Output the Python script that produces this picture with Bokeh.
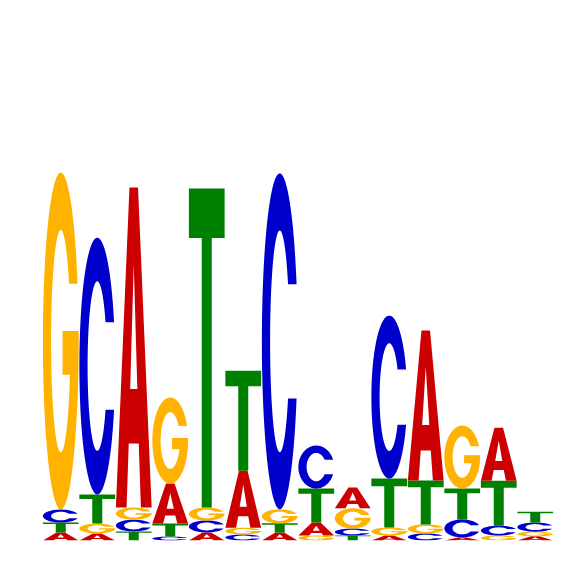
import numpy as np
from bokeh.plotting import figure
from bokeh.models import ColumnDataSource, Range1d
from bokeh.embed import file_html
from bokeh.resources import INLINE

# ---- data (information content per letter, bits) ----
positions = list(range(1, 15))
A_bits = [0.031, 0.027, 1.231, 0.154, 0.031, 0.219, 0.031, 0.050, 0.080, 0.019, 0.577, 0.012, 0.204, 0.016]
C_bits = [0.050, 0.988, 0.045, 0.015, 0.046, 0.023, 1.292, 0.165, 0.027, 0.627, 0.027, 0.069, 0.038, 0.035]
G_bits = [1.296, 0.038, 0.047, 0.331, 0.050, 0.026, 0.054, 0.019, 0.078, 0.031, 0.035, 0.242, 0.019, 0.018]
T_bits = [0.038, 0.112, 0.035, 0.050, 1.227, 0.385, 0.035, 0.131, 0.019, 0.188, 0.169, 0.119, 0.173, 0.042]
letters = ["A", "C", "G", "T"]
colors = {"A": "#CC0000", "C": "#0000CC", "G": "#FFB300", "T": "#008000"}

# ---- letter outlines in a unit box (exterior ring, optional holes) ----
def ring(cx, cy, rx, ry, t):
    return cx + rx * np.cos(t), cy + ry * np.sin(t)

def shape_A():
    ox = [0.0, 0.38, 0.62, 1.0, 0.70, 0.64, 0.36, 0.30]
    oy = [0.0, 1.0, 1.0, 0.0, 0.0, 0.20, 0.20, 0.0]
    hx = [0.40, 0.60, 0.50]
    hy = [0.37, 0.37, 0.76]
    return [(np.array(ox), np.array(oy)), (np.array(hx), np.array(hy))]

def shape_T():
    ox = [0.36, 0.64, 0.64, 1.0, 1.0, 0.0, 0.0, 0.36]
    oy = [0.0, 0.0, 0.845, 0.845, 1.0, 1.0, 0.845, 0.845]
    return [(np.array(ox), np.array(oy))]

RXO, RYO, RXI, RYI, GAP = 0.5, 0.5, 0.27, 0.33, 0.17

def shape_C():
    a_o = np.arcsin(GAP / RYO)
    a_i = np.arcsin(GAP / RYI)
    t_o = np.linspace(a_o, 2 * np.pi - a_o, 90)
    t_i = np.linspace(2 * np.pi - a_i, a_i, 90)
    xo, yo = ring(0.5, 0.5, RXO, RYO, t_o)
    xi, yi = ring(0.5, 0.5, RXI, RYI, t_i)
    return [(np.concatenate([xo, xi]), np.concatenate([yo, yi]))]

def shape_G():
    a_o = np.arcsin(GAP / RYO)
    a_i = np.arcsin(GAP / RYI)
    bar_top, bar_bot, bar_left = 0.53, 0.40, 0.55
    b_i = np.arcsin((0.5 - bar_bot) / RYI)
    t_o = np.linspace(a_o, 2 * np.pi, 90)
    t_i = np.linspace(2 * np.pi - b_i, a_i, 90)
    xo, yo = ring(0.5, 0.5, RXO, RYO, t_o)
    xi, yi = ring(0.5, 0.5, RXI, RYI, t_i)
    bx = np.array([1.0, bar_left, bar_left])
    by = np.array([bar_top, bar_top, bar_bot])
    return [(np.concatenate([xo, bx, xi]), np.concatenate([yo, by, yi]))]

shapes = {"A": shape_A(), "C": shape_C(), "G": shape_G(), "T": shape_T()}

# ---- build stacked glyphs ----
heights = {"A": A_bits, "C": C_bits, "G": G_bits, "T": T_bits}
col_w = 0.98
data = {"xs": [], "ys": [], "color": []}
for i, pos in enumerate(positions):
    col = sorted(letters, key=lambda L: heights[L][i])
    base = 0.0
    for L in col:
        h = heights[L][i]
        rings_x, rings_y = [], []
        for ux, uy in shapes[L]:
            rings_x.append(list(pos + (ux - 0.5) * col_w))
            rings_y.append(list(base + uy * h))
        data["xs"].append([rings_x])
        data["ys"].append([rings_y])
        data["color"].append(colors[L])
        base += h

src = ColumnDataSource(data)

p = figure(width=558, height=558, output_backend="svg", toolbar_location=None,
           x_range=Range1d(0.5, 14.5), y_range=Range1d(0, 2),
           x_axis_location=None, y_axis_location=None,
           min_border_left=42, min_border_right=5, min_border_top=20, min_border_bottom=18)
p.grid.visible = False
p.outline_line_color = None
p.background_fill_color = "white"
p.border_fill_color = "white"

p.multi_polygons(xs="xs", ys="ys", fill_color="color", line_color=None, source=src)

open("out.html", "w").write(file_html(p, INLINE))
